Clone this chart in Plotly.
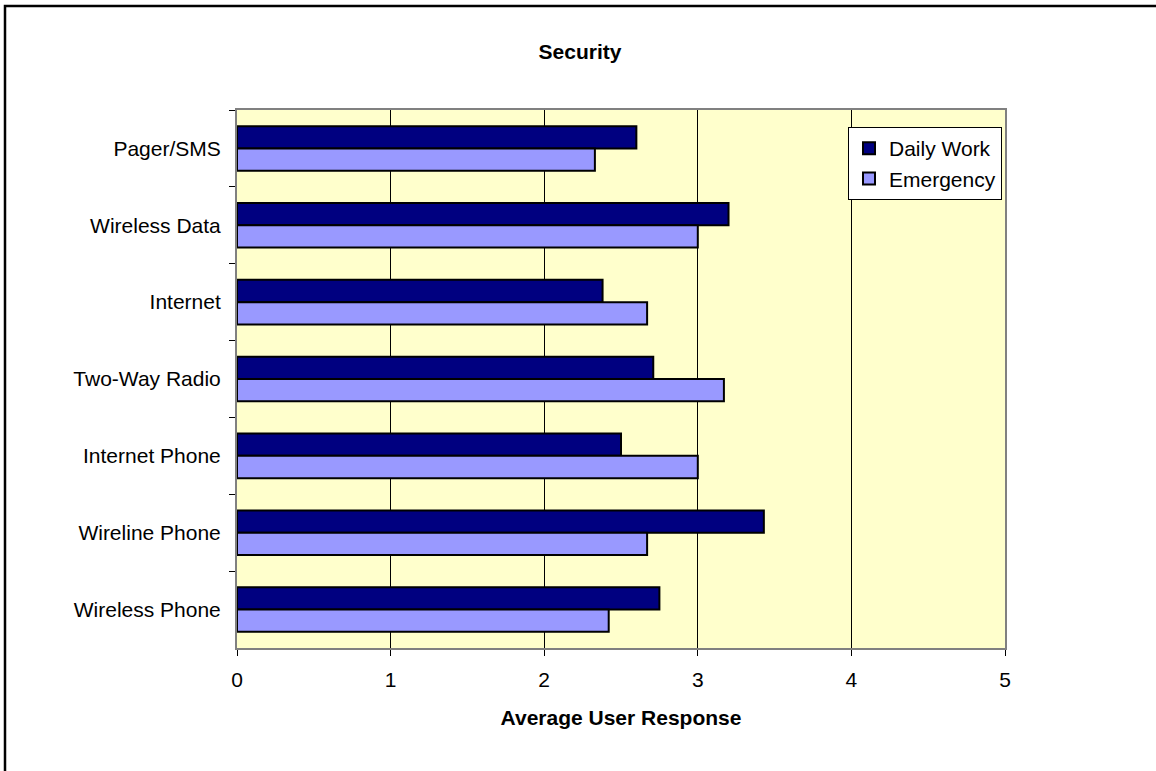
import plotly.graph_objects as go

# Survey categories, listed top to bottom as drawn
categories = ["Pager/SMS", "Wireless Data", "Internet", "Two-Way Radio",
              "Internet Phone", "Wireline Phone", "Wireless Phone"]
daily_work = [2.60, 3.20, 2.38, 2.71, 2.50, 3.43, 2.75]
emergency = [2.33, 3.00, 2.67, 3.17, 3.00, 2.67, 2.42]
x_ticks = [0, 1, 2, 3, 4, 5]

FONT = "Arial, Liberation Sans, sans-serif"
W, H = 1156, 771
L, R, T, B = 237, 1005, 110, 648  # plot area edges in pixels


def px_x(px):
    return (px - L) / (R - L)


def px_y(py):
    return (B - py) / (B - T)


fig = go.Figure()
fig.add_trace(go.Bar(
    y=categories, x=daily_work, name="Daily Work", orientation="h",
    marker=dict(color="#000080", line=dict(color="black", width=2)),
))
fig.add_trace(go.Bar(
    y=categories, x=emergency, name="Emergency", orientation="h",
    marker=dict(color="#9999FF", line=dict(color="black", width=2)),
))

fig.update_layout(
    width=W, height=H,
    margin=dict(l=L, r=W - R, t=T, b=H - B, autoexpand=False),
    paper_bgcolor="white",
    plot_bgcolor="#FFFFCC",
    barmode="group", bargap=0.42, bargroupgap=0,
    font=dict(family=FONT, size=21, color="black"),
    title=dict(text="<b>Security</b>", x=580 / W, xref="container",
               y=1 - 52 / H, yref="container", xanchor="center", yanchor="middle",
               font=dict(size=21, family=FONT, color="black")),
    xaxis=dict(range=[0, 5], tickvals=x_ticks, ticks="outside", ticklen=6,
               tickcolor="black", tickwidth=1,
               showgrid=True, gridcolor="black", gridwidth=1,
               showline=True, linecolor="#808080", linewidth=2, mirror=True,
               zeroline=False, ticklabelstandoff=6,
               title=dict(text="<b>Average User Response</b>", standoff=20,
                          font=dict(size=21, family=FONT, color="black"))),
    yaxis=dict(autorange="reversed", ticks="outside", ticklen=6, tickson="boundaries",
               tickcolor="black", tickwidth=1, showgrid=False,
               showline=True, linecolor="#808080", linewidth=2, mirror=True,
               ticklabelstandoff=10),
    legend=dict(x=px_x(1002), y=px_y(127), xanchor="right", yanchor="top",
                bgcolor="white", bordercolor="black", borderwidth=1,
                font=dict(size=21, family=FONT, color="black"),
                itemwidth=30, traceorder="normal"),
    showlegend=True,
)

# Outer chart frame (top and left edges fall inside the page)
fig.add_shape(type="rect", xref="paper", yref="paper",
              x0=px_x(5), x1=px_x(1200), y0=px_y(6), y1=px_y(820),
              line=dict(color="black", width=2.5), fillcolor="rgba(0,0,0,0)",
              layer="above")

fig.write_html("out.html")
